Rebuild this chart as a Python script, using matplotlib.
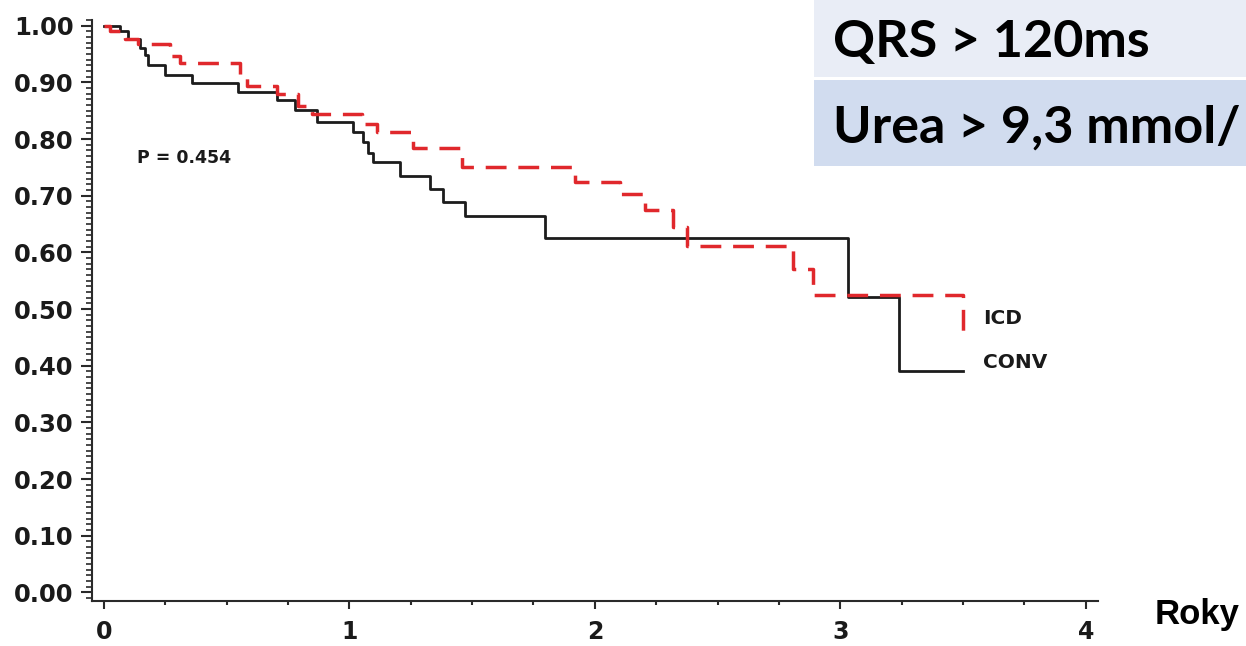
import matplotlib
matplotlib.use("Agg")
import matplotlib.pyplot as plt
from matplotlib.patches import Rectangle
from matplotlib.ticker import MultipleLocator, FixedLocator

# Kaplan-Meier survival estimates (years, survival proportion)
conv_t = [0, 0.065, 0.098, 0.147, 0.167, 0.179, 0.248, 0.358, 0.546, 0.705, 0.778,
          0.868, 1.014, 1.055, 1.075, 1.096, 1.206, 1.328, 1.381, 1.470, 1.796,
          3.031, 3.238, 3.50]
conv_s = [1.0, 0.991, 0.977, 0.960, 0.948, 0.930, 0.913, 0.899, 0.883, 0.869, 0.851,
          0.830, 0.813, 0.795, 0.776, 0.759, 0.734, 0.711, 0.689, 0.664, 0.625,
          0.522, 0.391, 0.391]

icd_t = [0, 0.024, 0.086, 0.138, 0.269, 0.310, 0.554, 0.582, 0.705, 0.790, 0.847,
         1.051, 1.112, 1.259, 1.458, 1.919, 2.102, 2.204, 2.318, 2.375, 2.807,
         2.888, 3.50]
icd_s = [1.0, 0.990, 0.977, 0.967, 0.946, 0.934, 0.910, 0.894, 0.880, 0.859, 0.845,
         0.827, 0.812, 0.784, 0.751, 0.724, 0.703, 0.675, 0.644, 0.611, 0.571,
         0.525, 0.458]

x_ticks = [0, 1, 2, 3, 4]
y_ticks = [0.0, 0.1, 0.2, 0.3, 0.4, 0.5, 0.6, 0.7, 0.8, 0.9, 1.0]
y_tick_labels = [f"{v:.2f}" for v in y_ticks]

p_text = "P = 0.454"
group_labels = ["ICD", "CONV"]
criteria = ["QRS > 120ms", "Urea > 9,3 mmol/"]
x_label = "Roky"

W, H = 1246, 646
fig = plt.figure(figsize=(W / 100, H / 100), dpi=100)
fig.patch.set_facecolor("white")

ax = fig.add_axes([91.7 / W, 45 / H, (1098 - 91.7) / W, (601 - 20) / H])
ax.set_xlim(-0.05, 4.05)
ax.set_ylim(-0.015, 1.01)

ax.plot(conv_t, conv_s, drawstyle="steps-post", color="#1c1c1c", lw=2.0, zorder=3)
ax.plot(icd_t, icd_s, drawstyle="steps-post", color="#e0282c", lw=2.5,
        linestyle=(0, (6, 3.4)), zorder=4)

for s in ("top", "right"):
    ax.spines[s].set_visible(False)
for s in ("left", "bottom"):
    ax.spines[s].set_linewidth(1.5)
    ax.spines[s].set_color("#2a2a2a")

ax.xaxis.set_major_locator(FixedLocator(x_ticks))
ax.xaxis.set_minor_locator(MultipleLocator(0.25))
ax.yaxis.set_major_locator(FixedLocator(y_ticks))
ax.yaxis.set_minor_locator(MultipleLocator(0.01))
ax.set_yticklabels(y_tick_labels)

ax.tick_params(axis="x", which="major", length=5.5, width=1.5, pad=8.5, color="#2a2a2a")
ax.tick_params(axis="x", which="minor", length=3, width=1.5, color="#2a2a2a")
ax.tick_params(axis="y", which="major", length=8, width=1.5, pad=5, color="#2a2a2a")
ax.tick_params(axis="y", which="minor", length=4, width=1.2, color="#2a2a2a")
for lab in ax.get_xticklabels():
    lab.set_fontfamily("DejaVu Sans")
    lab.set_fontweight("bold")
    lab.set_fontsize(17)
    lab.set_color("#1a1a1a")
for lab in ax.get_yticklabels():
    lab.set_fontfamily("DejaVu Sans")
    lab.set_fontweight("bold")
    lab.set_fontsize(17.5)
    lab.set_color("#1a1a1a")

ax.text(0.134, 0.766, p_text, fontsize=12.5, fontweight="bold",
        family="DejaVu Sans", color="#1a1a1a", va="center", ha="left")
ax.text(3.58, 0.483, group_labels[0], fontsize=14.5, fontweight="bold",
        family="DejaVu Sans", color="#1a1a1a", va="center", ha="left")
ax.text(3.58, 0.405, group_labels[1], fontsize=14.5, fontweight="bold",
        family="DejaVu Sans", color="#1a1a1a", va="center", ha="left")

# Criteria panel in the upper right corner
fig.patches.append(Rectangle((814 / W, (H - 77) / H), (W - 814) / W, 77 / H,
                             transform=fig.transFigure, facecolor="#e9edf6",
                             edgecolor="none", zorder=5))
fig.patches.append(Rectangle((814 / W, (H - 166) / H), (W - 814) / W, 86 / H,
                             transform=fig.transFigure, facecolor="#d1dcef",
                             edgecolor="none", zorder=5))
fig.text(833 / W, (H - 57) / H, criteria[0], fontsize=37.5, fontweight="bold",
         family="Lato", color="black", va="baseline", ha="left", zorder=6)
fig.text(833 / W, (H - 143) / H, criteria[1], fontsize=37.5, fontweight="bold",
         family="Lato", color="black", va="baseline", ha="left", zorder=6)

fig.text(1155 / W, (H - 624) / H, x_label, fontsize=25, fontweight="bold",
         family="Liberation Sans", color="black", va="baseline", ha="left")

fig.savefig("out.png", dpi=100, facecolor="white")
